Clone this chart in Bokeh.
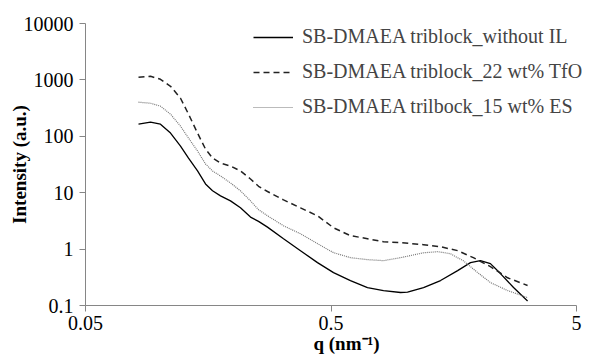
from bokeh.plotting import figure
from bokeh.models import FixedTicker, CustomJSTickFormatter, Legend, LegendItem
from bokeh.embed import file_html
from bokeh.resources import INLINE

FONT = "Liberation Serif"

q_without = [0.0822, 0.0920, 0.1010, 0.1110, 0.1219, 0.1314, 0.1430, 0.1541, 0.1646, 0.1774,
             0.1948, 0.2139, 0.2350, 0.2534, 0.2756, 0.3203, 0.3756, 0.4405, 0.512, 0.600,
             0.704, 0.818, 0.960, 1.025, 1.191, 1.397, 1.64, 1.85, 2.03, 2.23, 2.45, 2.77, 3.16]
i_without = [164, 178, 164, 114, 67.1, 41.2, 24.3, 14.3, 10.8, 8.8,
             7.16, 5.39, 3.7, 3.1, 2.45, 1.53, 0.937, 0.575, 0.383, 0.277,
             0.208, 0.184, 0.170, 0.172, 0.208, 0.277, 0.415, 0.575, 0.624, 0.552, 0.368, 0.208, 0.12]

q_tfo = [0.0822, 0.0920, 0.1010, 0.1110, 0.1219, 0.1314, 0.1430, 0.1541, 0.1646, 0.1774,
         0.1948, 0.2139, 0.2350, 0.2534, 0.2756, 0.3203, 0.3756, 0.4405, 0.512, 0.600,
         0.704, 0.818, 0.960, 1.191, 1.397, 1.64, 1.90, 2.23, 2.62, 3.16]
i_tfo = [1111, 1158, 1025, 771, 473, 247, 114, 59.4, 41.2, 33.6,
         29.7, 24.3, 17.5, 13.0, 10.5, 7.46, 5.39, 3.89, 2.39, 1.73,
         1.53, 1.35, 1.30, 1.20, 1.10, 0.94, 0.705, 0.489, 0.31, 0.226]

q_es = [0.0822, 0.0920, 0.1010, 0.1110, 0.1219, 0.1314, 0.1430, 0.1541, 0.1646, 0.1774,
        0.1948, 0.2139, 0.2350, 0.2534, 0.2756, 0.3203, 0.3756, 0.4405, 0.512, 0.600,
        0.704, 0.818, 0.960, 1.191, 1.36, 1.53, 1.73, 1.98, 2.23, 2.62, 3.16]
i_es = [402, 386, 342, 247, 151, 93, 54.8, 32.3, 24.3, 19.8,
        14.9, 10.8, 7.16, 5.0, 3.9, 2.59, 1.87, 1.25, 0.864, 0.705,
        0.650, 0.624, 0.705, 0.86, 0.90, 0.83, 0.62, 0.383, 0.255, 0.184, 0.138]

labels = ["SB-DMAEA triblock_without IL", "SB-DMAEA triblock_22 wt% TfO", "SB-DMAEA trilbock_15 wt% ES"]
x_ticks = [0.05, 0.5, 5]
y_ticks = [0.1, 1, 10, 100, 1000, 10000]

# frame spans to the right edge so the legend is not clipped; x axis is bounded to 0.05..5
x_end = 5 * 10 ** (31 / 245.5)

p = figure(width=607, height=357, x_axis_type="log", y_axis_type="log",
           x_range=(0.05, x_end), y_range=(0.1, 10000),
           output_backend="svg", toolbar_location=None,
           min_border_left=85, min_border_right=0, min_border_top=23, min_border_bottom=52)
p.outline_line_color = None
p.xgrid.visible = False
p.ygrid.visible = False
p.background_fill_color = "white"
p.border_fill_color = "white"

r1 = p.line(q_without, i_without, line_color="black", line_width=1.3)
r2 = p.line(q_tfo, i_tfo, line_color="#222222", line_width=1.5, line_dash="6 4")
r3 = p.line(q_es, i_es, line_color="#777777", line_width=1.2, line_dash="1 1")

fmt = CustomJSTickFormatter(code="return tick.toString();")
for ax, ticks in ((p.xaxis[0], x_ticks), (p.yaxis[0], y_ticks)):
    ax.ticker = FixedTicker(ticks=ticks, minor_ticks=[])
    ax.formatter = fmt
    ax.axis_line_color = "#868686"
    ax.major_tick_line_color = "#868686"
    ax.major_tick_out = 6
    ax.major_tick_in = 0
    ax.minor_tick_line_color = None
    ax.major_label_text_font = FONT
    ax.major_label_text_font_size = "20px"
    ax.major_label_text_color = "black"
    ax.axis_label_text_font = FONT
    ax.axis_label_text_font_size = "19px"
    ax.axis_label_text_font_style = "bold"
    ax.axis_label_text_color = "black"

p.xaxis[0].bounds = (x_ticks[0], x_ticks[-1])
p.yaxis[0].axis_label = "Intensity (a.u.)"
p.yaxis[0].major_label_standoff = 6
p.yaxis[0].axis_label_standoff = -9
p.xaxis[0].axis_label = "q (nm\u207b\u00b9)"
p.xaxis[0].major_label_standoff = 4
p.xaxis[0].axis_label_standoff = 0

legend = Legend(items=[LegendItem(label=labels[0], renderers=[r1]),
                       LegendItem(label=labels[1], renderers=[r2]),
                       LegendItem(label=labels[2], renderers=[r3])],
                location=(168, 187), padding=0, margin=0, spacing=12,
                glyph_width=40, glyph_height=20, label_height=20, label_standoff=9,
                label_text_font=FONT, label_text_font_size="20px",
                border_line_color=None, background_fill_alpha=0)
p.add_layout(legend)

open("out.html", "w").write(file_html(p, INLINE))
